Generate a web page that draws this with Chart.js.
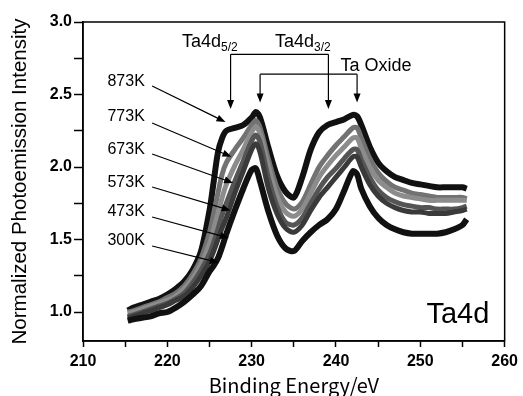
<!DOCTYPE html>
<html>
<head>
<meta charset="utf-8">
<script src="https://cdn.jsdelivr.net/npm/chart.js@4.4.1/dist/chart.umd.min.js"></script>
<style>
  html, body { margin: 0; padding: 0; overflow: hidden; background: #fff; }
  #wrap { width: 523px; height: 410px; position: relative; }
</style>
</head>
<body>
<div id="wrap"><canvas id="chart"></canvas></div>
<script>
// binding energy (eV) shared by every spectrum
const energy = [215.3, 216, 217, 218, 219, 220, 221, 222, 223, 224, 225, 225.5, 226, 226.5, 227, 228, 229, 230, 230.5, 231,
  232, 233, 234, 235, 236, 237, 238, 239, 240, 241, 242, 242.5, 243, 244, 245, 246, 247, 248, 249, 250,
  251, 252, 253, 254, 255, 255.5];

const i873 = [1.01, 1.03, 1.05, 1.07, 1.09, 1.12, 1.16, 1.21, 1.29, 1.42, 1.70, 1.90, 2.10, 2.20, 2.25, 2.27, 2.29, 2.34, 2.38, 2.34,
  2.13, 1.94, 1.83, 1.79, 1.93, 2.12, 2.24, 2.29, 2.31, 2.33, 2.36, 2.35, 2.29, 2.14, 2.03, 1.97, 1.93, 1.91, 1.89, 1.88,
  1.87, 1.86, 1.86, 1.86, 1.86, 1.85];
const i773 = [1.00, 1.01, 1.03, 1.05, 1.07, 1.10, 1.13, 1.18, 1.26, 1.37, 1.55, 1.68, 1.82, 1.95, 2.03, 2.12, 2.20, 2.29, 2.32, 2.27,
  2.05, 1.86, 1.75, 1.71, 1.76, 1.88, 2.00, 2.08, 2.15, 2.21, 2.27, 2.27, 2.20, 2.06, 1.96, 1.90, 1.86, 1.84, 1.82, 1.81,
  1.80, 1.79, 1.79, 1.79, 1.79, 1.78];
const i673 = [0.99, 1.00, 1.02, 1.04, 1.06, 1.08, 1.11, 1.16, 1.23, 1.33, 1.47, 1.57, 1.68, 1.79, 1.88, 2.01, 2.12, 2.24, 2.28, 2.23,
  2.00, 1.80, 1.69, 1.66, 1.71, 1.82, 1.93, 2.01, 2.08, 2.14, 2.20, 2.20, 2.13, 2.00, 1.91, 1.86, 1.82, 1.80, 1.79, 1.78,
  1.77, 1.77, 1.77, 1.77, 1.77, 1.77];
const i573 = [0.97, 0.98, 1.00, 1.02, 1.04, 1.06, 1.09, 1.13, 1.20, 1.29, 1.40, 1.48, 1.57, 1.67, 1.75, 1.90, 2.04, 2.18, 2.22, 2.17,
  1.92, 1.73, 1.62, 1.60, 1.65, 1.75, 1.85, 1.93, 1.99, 2.06, 2.12, 2.12, 2.05, 1.93, 1.84, 1.79, 1.76, 1.74, 1.73, 1.72,
  1.72, 1.71, 1.71, 1.71, 1.72, 1.73];
const i473 = [0.96, 0.97, 0.99, 1.01, 1.03, 1.05, 1.08, 1.11, 1.17, 1.25, 1.35, 1.42, 1.50, 1.58, 1.65, 1.82, 1.97, 2.12, 2.16, 2.10,
  1.85, 1.68, 1.58, 1.55, 1.60, 1.70, 1.79, 1.86, 1.93, 2.00, 2.07, 2.07, 2.00, 1.88, 1.80, 1.75, 1.72, 1.70, 1.69, 1.69,
  1.68, 1.68, 1.68, 1.69, 1.70, 1.71];
const i300 = [0.94, 0.95, 0.96, 0.97, 0.99, 1.00, 1.03, 1.07, 1.12, 1.18, 1.28, 1.32, 1.37, 1.45, 1.54, 1.70, 1.85, 1.98, 1.99, 1.90,
  1.69, 1.53, 1.44, 1.42, 1.49, 1.55, 1.60, 1.64, 1.71, 1.84, 1.97, 1.95, 1.85, 1.73, 1.65, 1.60, 1.57, 1.55, 1.54, 1.54,
  1.54, 1.54, 1.55, 1.57, 1.60, 1.64];

const temps = ['873K', '773K', '673K', '573K', '473K', '300K'];
const xTicks = [210, 215, 220, 225, 230, 235, 240, 245, 250, 255, 260];
const yTicks = [1.0, 1.25, 1.5, 1.75, 2.0, 2.25, 2.5, 2.75, 3.0];

const FONT = "'Liberation Sans', Arial, sans-serif";

const series = [
  { data: i873, color: '#111111', width: 6 },
  { data: i773, color: '#727272', width: 5 },
  { data: i673, color: '#8c8c8c', width: 5 },
  { data: i573, color: '#555555', width: 5 },
  { data: i473, color: '#3a3a3a', width: 5 },
  { data: i300, color: '#111111', width: 6 }
];

// annotation placement, in data units (energy, intensity)
const tempLabelX = 212.9;
const tempLabelY = [2.59, 2.345, 2.117, 1.89, 1.69, 1.49];
const arrowFrom = [[218.2, 2.559], [218.2, 2.303], [218.2, 2.09], [218.2, 1.862], [218.2, 1.655], [218.2, 1.455]];
const arrowTo = [[226.9, 2.31], [227.6, 2.07], [227.8, 1.89], [227.5, 1.70], [227.3, 1.51], [226.1, 1.34]];
const brackets = [
  { x1: 227.5, x2: 239.1, top: 2.777, tip: 2.40 },
  { x1: 231.0, x2: 242.5, top: 2.64, tip: 2.444 }
];

function arrow(ctx, x1, y1, x2, y2) {
  const ang = Math.atan2(y2 - y1, x2 - x1);
  const len = 9, half = 3.5;
  ctx.beginPath();
  ctx.moveTo(x1, y1);
  ctx.lineTo(x2 - Math.cos(ang) * len * 0.8, y2 - Math.sin(ang) * len * 0.8);
  ctx.stroke();
  ctx.beginPath();
  ctx.moveTo(x2, y2);
  ctx.lineTo(x2 - Math.cos(ang) * len - Math.sin(ang) * half, y2 - Math.sin(ang) * len + Math.cos(ang) * half);
  ctx.lineTo(x2 - Math.cos(ang) * len + Math.sin(ang) * half, y2 - Math.sin(ang) * len - Math.cos(ang) * half);
  ctx.closePath();
  ctx.fill();
}

function subLabel(ctx, x, y, main, sub) {
  ctx.font = '18px ' + FONT;
  ctx.fillText(main, x, y);
  const w = ctx.measureText(main).width;
  ctx.font = '12px ' + FONT;
  ctx.fillText(sub, x + w, y + 4);
}

const annotations = {
  id: 'annotations',
  afterDatasetsDraw(chart) {
    const { ctx, chartArea: a, scales: { x, y } } = chart;
    ctx.save();
    ctx.strokeStyle = '#000';
    ctx.fillStyle = '#000';
    ctx.lineWidth = 1.5;
    ctx.strokeRect(a.left, a.top, a.right - a.left, a.bottom - a.top);

    ctx.lineWidth = 1.2;
    ctx.font = '16px ' + FONT;
    ctx.textBaseline = 'middle';
    ctx.textAlign = 'left';
    temps.forEach((t, i) => {
      ctx.fillText(t, x.getPixelForValue(tempLabelX), y.getPixelForValue(tempLabelY[i]));
      arrow(ctx, x.getPixelForValue(arrowFrom[i][0]), y.getPixelForValue(arrowFrom[i][1]),
        x.getPixelForValue(arrowTo[i][0]), y.getPixelForValue(arrowTo[i][1]));
    });

    brackets.forEach(b => {
      const xa = x.getPixelForValue(b.x1), xb = x.getPixelForValue(b.x2);
      const yt = y.getPixelForValue(b.top), yp = y.getPixelForValue(b.tip);
      ctx.beginPath();
      ctx.moveTo(xa, yt);
      ctx.lineTo(xb, yt);
      ctx.stroke();
      arrow(ctx, xa, yt, xa, yp);
      arrow(ctx, xb, yt, xb, yp);
    });

    ctx.textBaseline = 'alphabetic';
    subLabel(ctx, x.getPixelForValue(221.74), y.getPixelForValue(2.828), 'Ta4d', '5/2');
    subLabel(ctx, x.getPixelForValue(232.77), y.getPixelForValue(2.828), 'Ta4d', '3/2');
    ctx.font = '18px ' + FONT;
    ctx.fillText('Ta Oxide', x.getPixelForValue(240.52), y.getPixelForValue(2.662));
    ctx.font = '29px ' + FONT;
    ctx.fillText('Ta4d', x.getPixelForValue(250.73), y.getPixelForValue(0.924));
    ctx.restore();
  }
};

new Chart(document.getElementById('chart'), {
  type: 'line',
  data: {
    datasets: series.map((s, k) => ({
      label: temps[k],
      data: energy.map((e, i) => ({ x: e, y: s.data[i] })),
      borderColor: s.color,
      borderWidth: s.width,
      pointRadius: 0,
      tension: 0.3,
      fill: false
    })).reverse()
  },
  options: {
    responsive: true,
    maintainAspectRatio: false,
    animation: false,
    layout: { padding: { left: 0, right: 14, top: 22, bottom: 0 } },
    plugins: { legend: { display: false }, tooltip: { enabled: false } },
    scales: {
      x: {
        type: 'linear',
        min: 210,
        max: 260,
        afterBuildTicks: s => { s.ticks = xTicks.map(v => ({ value: v })); },
        afterFit: s => { s.height = 69; },
        ticks: {
          autoSkip: false,
          maxRotation: 0,
          padding: 5,
          color: '#000',
          font: { family: FONT, size: 16, weight: 'bold' },
          callback: v => (v % 10 === 0 ? v : '')
        },
        grid: { drawOnChartArea: false, drawTicks: true, tickLength: 6, tickColor: '#000', tickWidth: 1.5 },
        border: { display: true, color: '#000', width: 1.5 },
        title: {
          display: true,
          text: 'Binding Energy/eV',
          color: '#000',
          font: { family: "'Noto Sans CJK JP', 'Noto Sans', sans-serif", size: 20 },
          padding: { top: 0, bottom: 13 }
        }
      },
      y: {
        min: 0.8,
        max: 3.0,
        afterBuildTicks: s => { s.ticks = yTicks.map(v => ({ value: v })); },
        afterFit: s => { s.width = 83; },
        ticks: {
          autoSkip: false,
          padding: 2,
          color: '#000',
          font: { family: FONT, size: 16, weight: 'bold' },
          callback: v => (Math.abs(v * 2 - Math.round(v * 2)) < 1e-6 ? v.toFixed(1) : '')
        },
        grid: { drawOnChartArea: false, drawTicks: true, tickLength: 9, tickColor: '#000', tickWidth: 1.5 },
        border: { display: true, color: '#000', width: 1.5 },
        title: {
          display: true,
          text: 'Normalized Photoemission Intensity',
          color: '#000',
          font: { family: FONT, size: 20.5 },
          padding: { top: 8, bottom: 0 }
        }
      }
    }
  },
  plugins: [annotations]
});
</script>
</body>
</html>
